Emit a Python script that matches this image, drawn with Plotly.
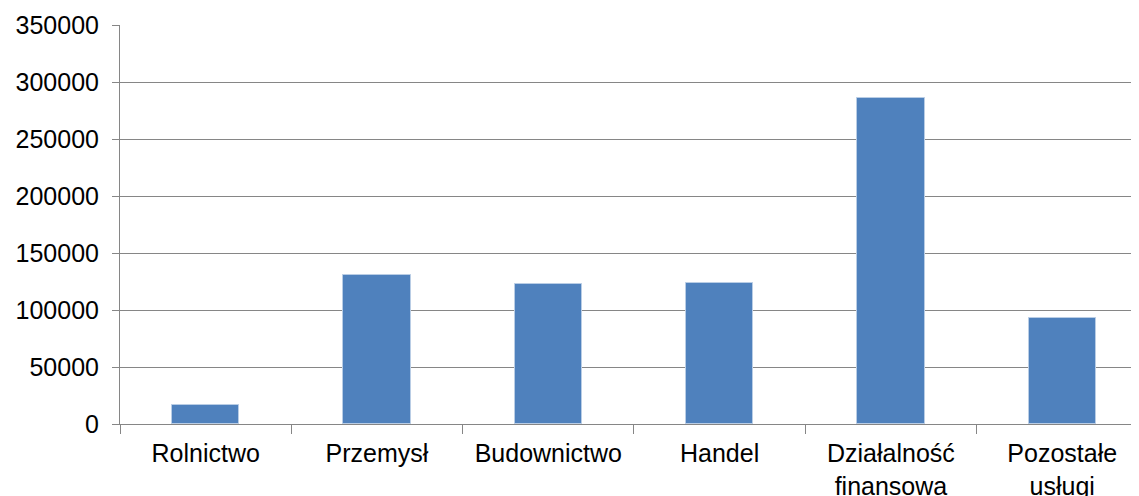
import plotly.graph_objects as go

categories = ["Rolnictwo", "Przemysł", "Budownictwo", "Handel", "Działalność<br>finansowa", "Pozostałe<br>usługi"]
values = [16300, 130700, 122400, 123300, 286000, 93000]
y_ticks = [0, 50000, 100000, 150000, 200000, 250000, 300000, 350000]

fig = go.Figure(go.Bar(
    x=categories, y=values, width=0.394,
    marker=dict(color="#4F81BD", line=dict(color="#B9CDE5", width=1)),
))

# page body has an 8px margin, so the figure is offset by 8px
fig.update_layout(
    width=1131, height=488,
    margin=dict(l=112, r=0, t=17, b=72),
    paper_bgcolor="white", plot_bgcolor="white",
    font=dict(family="Liberation Sans, Arial, sans-serif", size=25, color="#000000"),
    showlegend=False,
    bargap=0,
)
fig.update_xaxes(
    range=[-0.5, 5.448], tickson="boundaries", ticks="outside", ticklen=9, tickcolor="#868686",
    showline=True, linecolor="#868686", linewidth=1, showgrid=False, fixedrange=True,
    automargin=False, ticklabelstandoff=7,
)
fig.update_yaxes(
    range=[0, 350000], tickvals=y_ticks, ticks="outside", ticklen=7, tickcolor="#868686",
    showline=True, linecolor="#868686", linewidth=1, gridcolor="#868686", gridwidth=1,
    zeroline=False, tickformat="d", ticklabelstandoff=8, automargin=False,
)

fig.write_html("out.html")
